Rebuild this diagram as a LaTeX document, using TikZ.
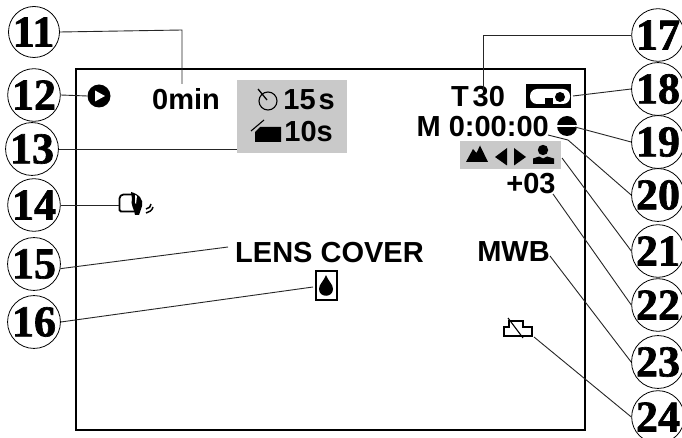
\documentclass[tikz,border=0pt]{standalone}
\usepackage{fontspec}
\setmainfont{Liberation Sans}
\newfontfamily\numfont[BoldFeatures={FakeBold=1.5}]{Liberation Serif}
\tikzset{
 num/.style={circle,draw=black,line width=0.8pt,minimum size=51pt,inner sep=0pt,font=\numfont\bfseries\fontsize{44}{44}\selectfont},
 lead/.style={line width=0.9pt,draw=black!85},
 lbl/.style={inner sep=0pt,font=\bfseries\fontsize{29}{29}\selectfont},
 greybox/.style={fill=black!21,draw=none,inner sep=0pt}
}
\begin{document}
\begin{tikzpicture}[x=1pt,y=-1pt]
\useasboundingbox (0,0) rectangle (682,438);
\fill[white] (0,0) rectangle (682,438);
% frame
\node[draw=black,line width=1.8pt,minimum width=509pt,minimum height=361pt,inner sep=0pt] (frame) at (330.5,249.5) {};
% grey panels
\node[greybox,minimum width=110pt,minimum height=73pt] (g13) at (292,116.5) {};
\node[greybox,minimum width=101pt,minimum height=28pt] (g21) at (510.5,155) {};
% number circles
\node[num] (c11) at (34,32) {\kern-1pt 11};
\node[num] (c12) at (34,95) {12};
\node[num] (c13) at (32,149) {13};
\node[num] (c14) at (34,205) {14};
\node[num] (c15) at (34,264) {15};
\node[num] (c16) at (34,322) {16};
\node[num] (c17) at (658,35) {17};
\node[num] (c18) at (658,89) {18};
\node[num] (c19) at (658,142) {19};
\node[num] (c20) at (658,195) {20};
\node[num] (c21) at (658,251) {21};
\node[num] (c22) at (658,305) {22};
\node[num] (c23) at (658,362) {23};
\node[num] (c24) at (658,417) {24};
% text
\node[lbl] (t0min) at (186,99) {0min};
\node[lbl,anchor=east] (t15) at (335,100) {15\kern3pt s};
\node[lbl,anchor=east] (t10) at (333,132) {10s};
\node[lbl] (t30) at (478,97) {T\kern4pt 30};
\node[lbl,anchor=east] (tm) at (549,126.5) {M 0:00:00};
\node[lbl] (t03) at (531,184) {+03};
\node[lbl] (tlens) at (329.5,253) {LENS COVER};
\node[lbl] (tmwb) at (513.5,252) {MWB};
% icons
% play
\node[circle,fill=black,minimum size=23pt,inner sep=0pt] (iplay) at (99,96) {};
\fill[white] (95,90.5) -- (105,96) -- (95,101.5) -- cycle;
% timer
\draw[line width=1.1pt] (268,101) circle (9);
\draw[line width=1.3pt] (258,89) -- (267,100);
% folder
\fill (255,132) -- (260,127) -- (281,127) -- (281,142) -- (255,142) -- cycle;
\draw[line width=1.1pt] (251,131) -- (264,120);
% icon 14
\coordinate (i14) at (119,205);
\draw[line width=1.8pt,rounded corners=1.5pt] (133,194.5) -- (122,194.5) -- (119.5,197) -- (119.5,211.5) -- (134,211.5);
\fill (131,192) .. controls (139,194) and (144,200) .. (142,206) .. controls (141,209) and (140,212) .. (139,215) -- (135,215) .. controls (134,208) and (130,204) .. (132,199) -- cycle;
\fill[white] (135,195) -- (137,196) -- (136,204) -- (135,203) -- cycle;
\draw[line width=1.5pt] (151,204) .. controls (151,207) and (149,208) .. (146,209);
\draw[line width=1.5pt] (153,207) .. controls (152,211) and (149,212) .. (146,213);
% tape
\node[fill=black,minimum width=45pt,minimum height=24pt,inner sep=0pt] (itape) at (548.5,96) {};
\fill[white,rounded corners=7pt] (530,89) rectangle (570,104);
\fill[black] (545,98.5) rectangle (553,104.5);
\fill[black] (560,97) circle (5);
% disc
\node[circle,fill=black,minimum size=20pt,inner sep=0pt] (idisc) at (567,126) {};
\fill[white] (556,124.7) rectangle (578,127.3);
% mountain, arrows, person
\fill (466,162) -- (473,149) -- (476.5,153) -- (480,145.5) -- (488,162) -- cycle;
\fill (507,148) -- (507,165.5) -- (495,157) -- cycle;
\fill (514,148) -- (514,165.5) -- (526,157) -- cycle;
\fill (543,150) circle (5.2);
\fill (533,164) -- (533,158.5) -- (539,156.5) -- (543,158.5) -- (547,156.5) -- (554,158.5) -- (554,164) -- cycle;
% drop
\node[draw=black,line width=1.5pt,minimum width=21pt,minimum height=29pt,inner sep=0pt] (idrop) at (326.5,285.5) {};
\fill (326,275) .. controls (328,281) and (333,284) .. (333,289) .. controls (333,298) and (319,298) .. (319,289) .. controls (319,284) and (324,281) .. (326,275) -- cycle;
% battery
\draw[line width=1.3pt] (504,336) -- (504,327) -- (509,327) -- (509,321) -- (523,321) -- (523,327) -- (532,327) -- (532,336) -- cycle;
\draw[line width=1.1pt] (508,318) -- (523,338);
\coordinate (i24) at (534,337);
% target coordinates
\coordinate (a11) at (182,84);
\coordinate (a15) at (228,247);
\coordinate (a16) at (313,287);
\coordinate (a17) at (483,90);
\coordinate (a18) at (573,96);
\coordinate (a19) at (575,127);
\coordinate (a20) at (548,135);
\coordinate (a21) at (562,158);
\coordinate (a22) at (553,194);
\coordinate (a23) at (550,256);
% connectors
\draw[lead] (c11.east) -- (182,30) -- (a11);
\draw[lead] (c12.east) -- (iplay.west);
\draw[lead] (c13.east) -- (g13.west |- c13.east);
\draw[lead] (c14.east) -- (i14);
\draw[lead] (c15.-10) -- (a15);
\draw[lead] (c16.east) -- (a16);
\draw[lead] (c17.west) -- (483,35) -- (a17);
\draw[lead] (c18.west) -- (a18);
\draw[lead] (c19.west) -- (a19);
\draw[lead] (c20.west) -- (568,140) -- (a20);
\draw[lead] (c21.west) -- (a21);
\draw[lead] (c22.west) -- (a22);
\draw[lead] (c23.west) -- (a23);
\draw[lead] (c24.west) -- (i24);
\end{tikzpicture}
\end{document}
